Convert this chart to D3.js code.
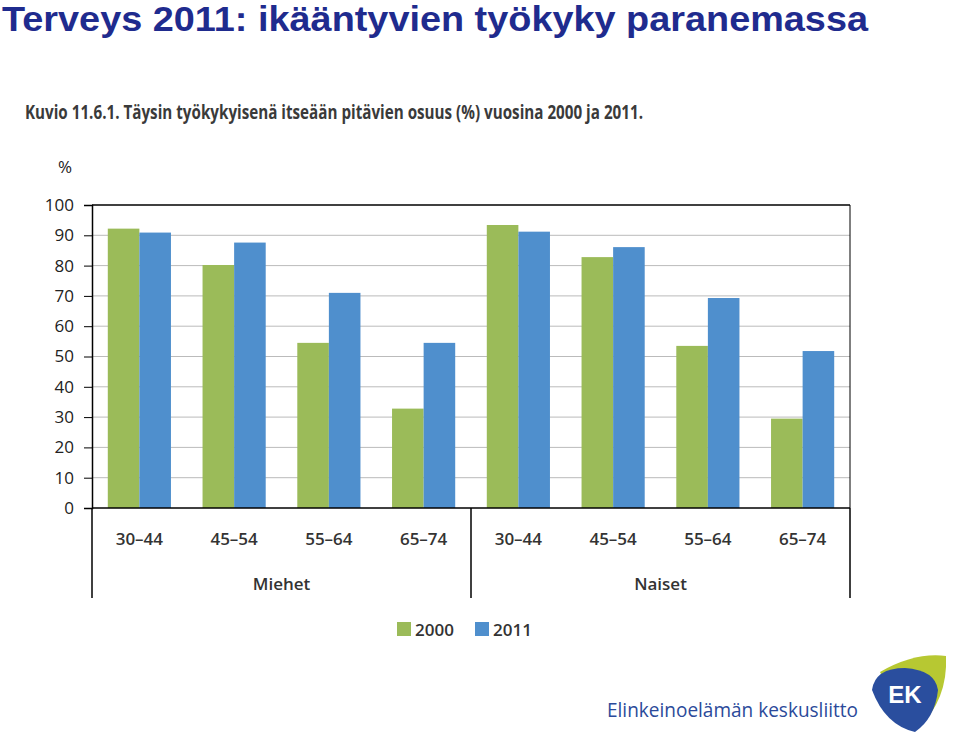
<!DOCTYPE html>
<html><head><meta charset="utf-8">
<script src="https://cdn.jsdelivr.net/npm/d3@7"></script>
<style>body{margin:0;background:#fff}svg{display:block}</style>
</head><body><div id="chart"></div>
<script>
const groups = ["Miehet", "Naiset"]
const ages = ["30–44", "45–54", "55–64", "65–74"]
const years = ["2000", "2011"]
const values2000 = [92.2, 80.2, 54.5, 32.8, 93.4, 82.8, 53.5, 29.5]
const values2011 = [90.9, 87.6, 71.0, 54.5, 91.2, 86.1, 69.3, 51.8]
const yTicks = [0, 10, 20, 30, 40, 50, 60, 70, 80, 90, 100]
const colors = ["#9bbb59", "#4f8fcd"]

const W = 960, H = 739
const svg = d3.select("#chart").append("svg").attr("width", W).attr("height", H)

svg.append("text").attr("x", 2).attr("y", 31)
    .attr("font-family", "Liberation Sans, Arial").attr("font-weight", "bold")
    .attr("font-size", 35).attr("fill", "#1f2b8e")
    .attr("textLength", 866).attr("lengthAdjust", "spacingAndGlyphs")
    .text("Terveys 2011: ikääntyvien työkyky paranemassa")

svg.append("text").attr("x", 25).attr("y", 119)
    .attr("font-family", "Open Sans").attr("font-weight", "bold")
    .attr("font-size", 19).attr("fill", "#3a3a3a")
    .attr("textLength", 618).attr("lengthAdjust", "spacingAndGlyphs")
    .text("Kuvio 11.6.1. Täysin työkykyisenä itseään pitävien osuus (%) vuosina 2000 ja 2011.")

const pLeft = 92, pRight = 850, pTop = 205, pBottom = 508
const cats = d3.range(values2000.length)
const x = d3.scaleBand().domain(cats).range([pLeft, pRight])
const x1 = d3.scaleBand().domain(years).range([0, x.bandwidth()]).paddingInner(0).paddingOuter(0.5)
const y = d3.scaleLinear().domain([0, 100]).range([pBottom, pTop])

const font = "Open Sans, sans-serif"
svg.append("text").attr("x", 65).attr("y", 173).attr("text-anchor", "middle")
    .attr("font-family", font).attr("font-size", 17).attr("fill", "#222").text("%")

svg.append("g").selectAll("line").data(yTicks.slice(1)).join("line")
    .attr("x1", pLeft).attr("x2", pRight).attr("y1", d => y(d)).attr("y2", d => y(d))
    .attr("stroke", d => d === 100 ? "#000" : "#bbb").attr("stroke-width", d => d === 100 ? 1.5 : 1)

const yAxis = svg.append("g").attr("transform", `translate(${pLeft},0)`)
    .call(d3.axisLeft(y).tickValues(yTicks).tickSize(8).tickPadding(10))
yAxis.select(".domain").attr("stroke", "#000").attr("stroke-width", 1.5)
yAxis.selectAll("text").attr("font-family", font).attr("font-size", 17).attr("fill", "#222")
svg.append("line").attr("x1", pRight).attr("x2", pRight).attr("y1", pTop).attr("y2", pBottom).attr("stroke", "#000")

const series = [values2000, values2011]
series.forEach((vals, si) => {
    svg.append("g").selectAll("rect").data(cats).join("rect")
        .attr("x", d => x(d) + x1(years[si]))
        .attr("width", x1.bandwidth())
        .attr("y", d => y(vals[d]))
        .attr("height", d => pBottom - y(vals[d]))
        .attr("fill", colors[si])
})

svg.append("line").attr("x1", pLeft).attr("x2", pRight).attr("y1", pBottom).attr("y2", pBottom).attr("stroke", "#000").attr("stroke-width", 1.5)
const seps = [pLeft, x(4), pRight]
svg.selectAll(".sep").data(seps).join("line")
    .attr("x1", d => d).attr("x2", d => d).attr("y1", pBottom).attr("y2", 598)
    .attr("stroke", "#000").attr("stroke-width", 1.5)

svg.append("g").selectAll("text").data(cats).join("text")
    .attr("x", d => x(d) + x.bandwidth() / 2).attr("y", 545).attr("text-anchor", "middle")
    .attr("font-family", font).attr("font-weight", 600).attr("font-size", 17).attr("fill", "#333")
    .text(d => ages[d % 4])
svg.append("g").selectAll("text").data(groups).join("text")
    .attr("x", (d, i) => (seps[i] + seps[i + 1]) / 2).attr("y", 590).attr("text-anchor", "middle")
    .attr("font-family", font).attr("font-weight", 600).attr("font-size", 17).attr("fill", "#333").text(d => d)

const lg = svg.append("g").selectAll("g").data(years).join("g")
    .attr("transform", (d, i) => `translate(${397 + i * 78},622)`)
lg.append("rect").attr("width", 14).attr("height", 14).attr("fill", (d, i) => colors[i])
lg.append("text").attr("x", 18).attr("y", 14).attr("font-family", font).attr("font-weight", 600).attr("font-size", 17).attr("fill", "#333").text(d => d)

// EK logo
svg.append("text").attr("x", 607).attr("y", 717).attr("font-family", "Open Sans")
    .attr("font-size", 20).attr("fill", "#2b4a9a").attr("textLength", 251).attr("lengthAdjust", "spacingAndGlyphs")
    .text("Elinkeinoelämän keskusliitto")
svg.append("path").attr("d", "M880,672 Q915,652 946,656 Q948,700 918,728 Q900,712 880,672Z").attr("fill", "#b7c832")
svg.append("path").attr("d", "M872,690 Q875,668 905,668 Q935,670 938,690 Q935,718 915,732 Q885,725 872,690Z").attr("fill", "#2a4e9e")
svg.append("text").attr("x", 905).attr("y", 703).attr("text-anchor", "middle").attr("font-family", "Liberation Sans")
    .attr("font-weight", "bold").attr("font-size", 24).attr("fill", "#fff").text("EK")
</script></body></html>
